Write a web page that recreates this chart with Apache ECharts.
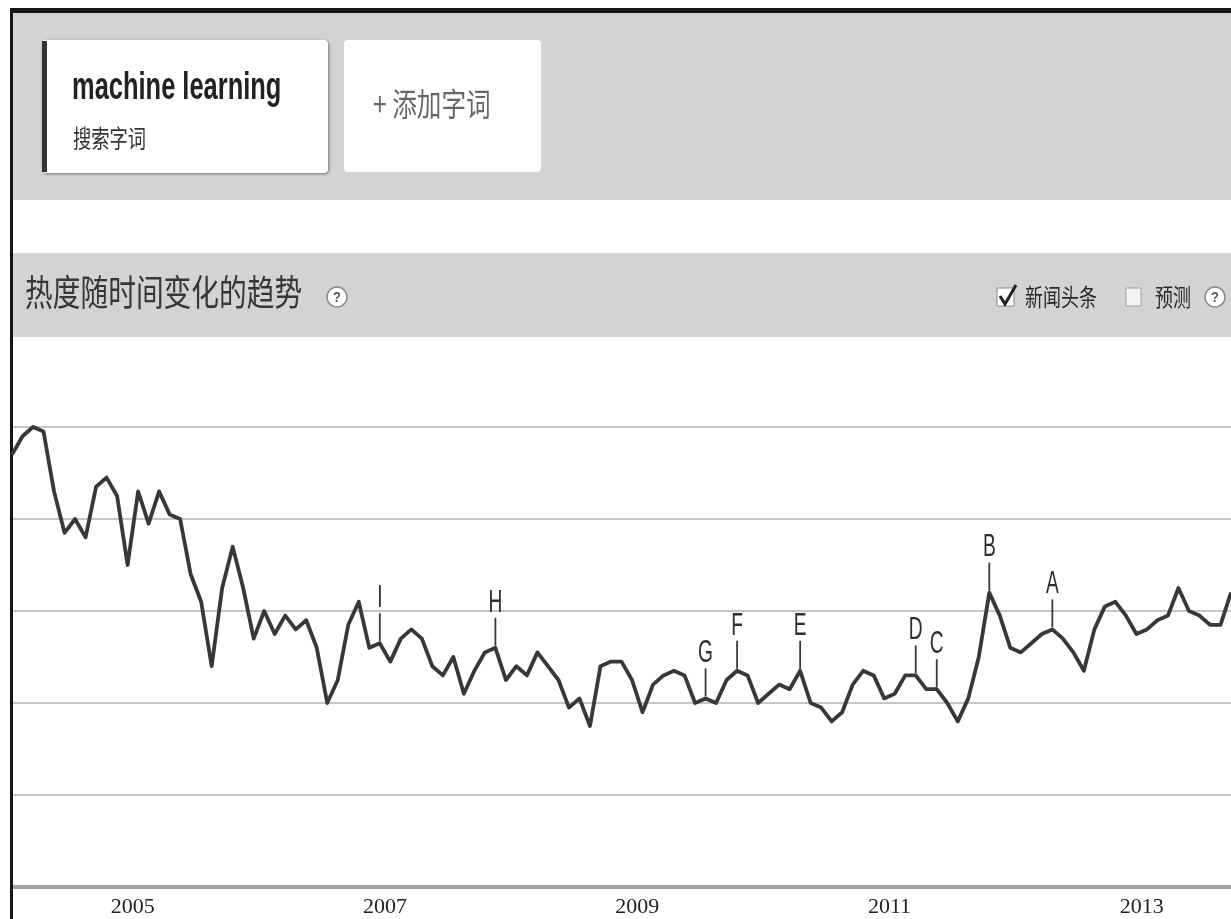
<!DOCTYPE html>
<html><head><meta charset="utf-8">
<script src="https://cdn.jsdelivr.net/npm/echarts@6/dist/echarts.min.js"></script>
<style>html,body{margin:0;padding:0;background:#fff;overflow:hidden}#c{width:1231px;height:919px}</style>
</head><body><div id="c"></div>
<script>
// ---- data ----
const values = [
  94, 98, 100, 99, 86, 77, 80, 76, 87, 89,
  85, 70, 86, 79, 86, 81, 80, 68, 62, 48,
  65, 74, 65, 54, 60, 55, 59, 56, 58, 52,
  40, 45, 57, 62, 52, 53, 49, 54, 56, 54,
  48, 46, 50, 42, 47, 51, 52, 45, 48, 46,
  51, 48, 45, 39, 41, 35, 48, 49, 49, 45,
  38, 44, 46, 47, 46, 40, 41, 40, 45, 47,
  46, 40, 42, 44, 43, 47, 40, 39, 36, 38,
  44, 47, 46, 41, 42, 46, 46, 43, 43, 40,
  36, 41, 50, 64, 59, 52, 51, 53, 55, 56,
  54, 51, 47, 56, 61, 62, 59, 55, 56, 58,
  59, 65, 60, 59, 57, 57, 64
];
const months = [];
for (let y = 2004; y <= 2013; y++) for (let m = 1; m <= 12; m++) months.push(y + '-' + String(m).padStart(2, '0'));
months.length = values.length;
const yearLabels = ['2005', '2007', '2009', '2011', '2013'];
const flagLetters = ['I', 'H', 'G', 'F', 'E', 'D', 'C', 'B', 'A'];
const flagMonths = ['2006-12', '2007-11', '2009-07', '2009-10', '2010-04', '2011-03', '2011-05', '2011-10', '2012-04'];
const searchTerm = 'machine learning';

// ---- build ----
const yearPos = yearLabels.map(y => months.indexOf(y + '-01') - 0.5);
const lineData = values.map((v, i) => [i, v]);
const flagData = flagMonths.map(m => { const i = months.indexOf(m); return [i, values[i]]; });

const CJK = '"Noto Sans CJK SC", "Liberation Sans", sans-serif';
const SANS = '"Liberation Sans", Arial, "Noto Sans CJK SC", sans-serif';
const SX = 0.75;

function txt(x, y, text, size, color, opts) {
  opts = opts || {};
  return {
    type: 'text', x: x, y: y, scaleX: opts.sx || SX, z: 10,
    style: {
      text: text, fontSize: size, fontFamily: opts.font || CJK, fontWeight: opts.weight || 'normal',
      fill: color, textAlign: opts.align || 'left', align: opts.align || 'left',
      textVerticalAlign: 'middle', verticalAlign: 'middle'
    }
  };
}
function qmark(cx, cy) {
  return [
    { type: 'circle', z: 10, shape: { cx: cx, cy: cy, r: 10 }, style: { fill: '#fff', stroke: '#8a8a8a', lineWidth: 1.5 } },
    txt(cx, cy + 1, '?', 15, '#555', { align: 'center', font: SANS, weight: 'bold', sx: 0.85 })
  ];
}

const graphics = [
  // frame
  { type: 'rect', z: 5, shape: { x: 10, y: 8, width: 1221, height: 5 }, style: { fill: '#151515' } },
  { type: 'rect', z: 5, shape: { x: 10, y: 8, width: 3, height: 911 }, style: { fill: '#151515' } },
  // header band
  { type: 'rect', z: 1, shape: { x: 13, y: 13, width: 1218, height: 187 }, style: { fill: '#d3d3d3' } },
  // term box
  { type: 'rect', z: 2, shape: { x: 42, y: 40, width: 286, height: 133, r: 4 }, style: { fill: '#fff', shadowBlur: 3, shadowOffsetY: 1, shadowOffsetX: 1, shadowColor: 'rgba(0,0,0,0.45)' } },
  { type: 'rect', z: 3, shape: { x: 42, y: 41, width: 5, height: 131 }, style: { fill: '#333' } },
  txt(72, 89, searchTerm, 38, '#222', { font: SANS, weight: 'bold', sx: 0.67 }),
  txt(73, 138, '搜索字词', 25, '#333', { sx: 0.73 }),
  // add box
  { type: 'rect', z: 2, shape: { x: 344, y: 40, width: 197, height: 132, r: 4 }, style: { fill: '#fff' } },
  txt(373, 104, '+ 添加字词', 32, '#666', { sx: 0.77 }),
  // section band
  { type: 'rect', z: 1, shape: { x: 13, y: 253, width: 1218, height: 84 }, style: { fill: '#d3d3d3' } },
  txt(25, 292, '热度随时间变化的趋势', 36, '#363636', { sx: 0.77 }),
  ...qmark(337, 297),
  // checkbox checked
  { type: 'rect', z: 10, shape: { x: 997, y: 288, width: 17, height: 18 }, style: { fill: '#fff', stroke: '#8a8a8a', lineWidth: 1 } },
  { type: 'polyline', z: 11, shape: { points: [[1000, 296], [1005, 304], [1016, 285]] }, style: { stroke: '#222', lineWidth: 3, fill: null } },
  txt(1025, 297, '新闻头条', 24, '#2a2a2a'),
  // checkbox empty
  { type: 'rect', z: 10, shape: { x: 1126, y: 288, width: 15, height: 18 }, style: { fill: '#f3f3f3', stroke: '#a5a5a5', lineWidth: 1 } },
  txt(1155, 297, '预测', 24, '#2a2a2a'),
  ...qmark(1215, 297)
];

const chart = echarts.init(document.getElementById('c'), null, { renderer: 'canvas' });
chart.setOption({
  animation: false,
  backgroundColor: '#fff',
  graphic: { elements: graphics },
  grid: { left: 12, right: 0, top: 427, bottom: 32, containLabel: false },
  xAxis: {
    type: 'value', min: 0, max: values.length - 1,
    axisLine: { show: true, onZero: false, lineStyle: { color: '#a0a0a0', width: 4 } },
    axisTick: { show: false },
    splitLine: { show: false },
    axisLabel: {
      customValues: yearPos,
      formatter: v => yearLabels[yearPos.indexOf(v)] || '',
      margin: 9, fontSize: 22, fontFamily: '"Liberation Serif", serif', color: '#222'
    }
  },
  yAxis: {
    type: 'value', min: 0, max: 100, interval: 20,
    axisLine: { show: false }, axisTick: { show: false }, axisLabel: { show: false },
    splitLine: { show: true, lineStyle: { color: '#c6c6c6', width: 2 } }
  },
  series: [
    {
      type: 'line', data: lineData, showSymbol: false, symbol: 'none', smooth: false, z: 5,
      lineStyle: { color: '#383838', width: 3.8, join: 'round' }
    },
    {
      type: 'custom', data: flagData, z: 6, clip: false,
      renderItem: function (params, api) {
        const p = api.coord([api.value(0), api.value(1)]);
        return {
          type: 'group', children: [
            { type: 'line', shape: { x1: p[0], y1: p[1] - 2, x2: p[0], y2: p[1] - 30 }, style: { stroke: '#3a3a3a', lineWidth: 1.8 } },
            { type: 'text', x: p[0], y: p[1] - 45, scaleX: 0.6,
              style: { text: flagLetters[params.dataIndex], fontSize: 32, fontFamily: SANS, fill: '#2e2e2e',
                       textAlign: 'center', align: 'center', textVerticalAlign: 'middle', verticalAlign: 'middle' } }
          ]
        };
      }
    }
  ]
});
</script></body></html>
